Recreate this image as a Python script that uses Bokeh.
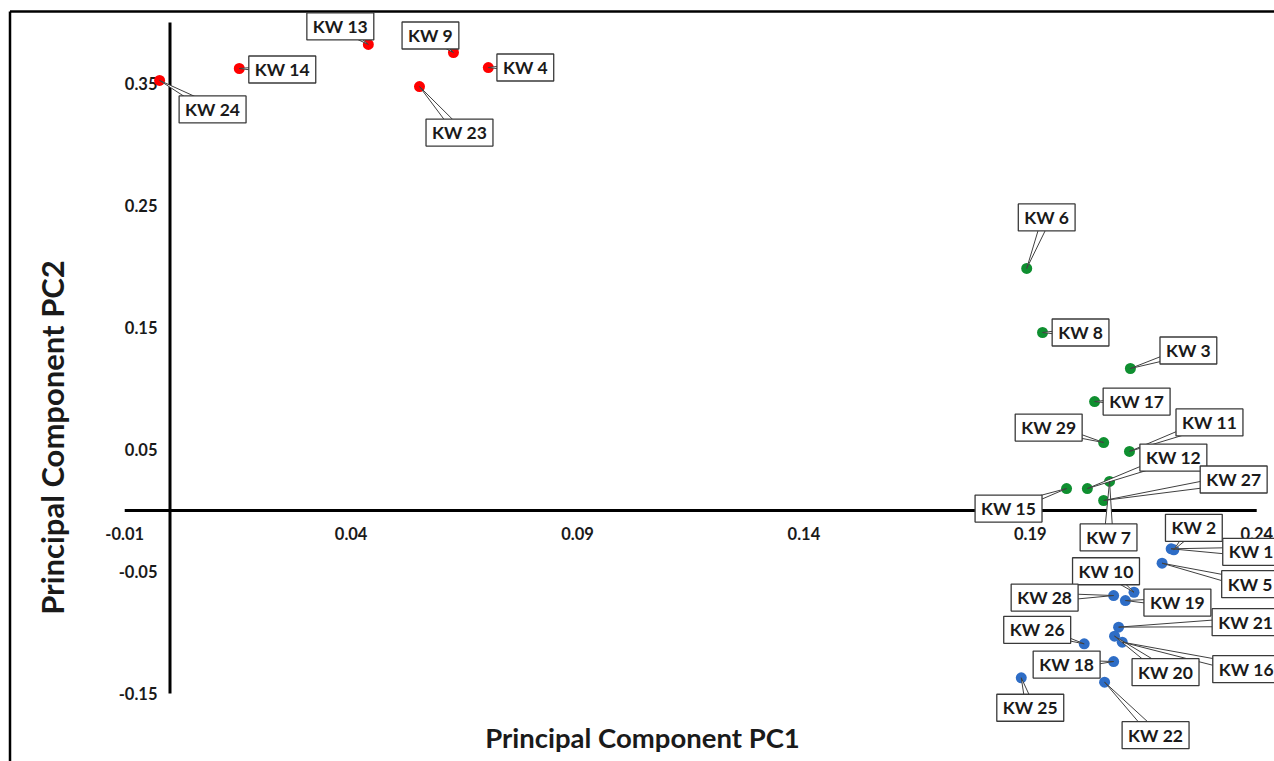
import numpy as np
from bokeh.plotting import figure
from bokeh.models import Range1d
from bokeh.core.properties import value
from bokeh.embed import file_html
from bokeh.resources import INLINE

# ---------------- data ----------------
red_names = ["KW 24", "KW 14", "KW 13", "KW 9", "KW 4", "KW 23"]
red_pc1 = [-0.0023, 0.0153, 0.0438, 0.0626, 0.0703, 0.0551]
red_pc2 = [0.3525, 0.3623, 0.3820, 0.3754, 0.3631, 0.3475]

green_names = ["KW 6", "KW 8", "KW 3", "KW 17", "KW 29", "KW 11", "KW 12", "KW 15", "KW 7", "KW 27"]
green_pc1 = [0.1892, 0.1927, 0.2121, 0.2042, 0.2062, 0.2119, 0.2026, 0.1980, 0.2075, 0.2062]
green_pc2 = [0.1984, 0.1459, 0.1164, 0.0893, 0.0557, 0.0484, 0.0180, 0.0180, 0.0238, 0.0082]

blue_names = ["KW 2", "KW 1", "KW 5", "KW 10", "KW 28", "KW 19", "KW 21", "KW 20", "KW 16",
              "KW 26", "KW 18", "KW 25", "KW 22"]
blue_pc1 = [0.2217, 0.2211, 0.2191, 0.2129, 0.2084, 0.2110, 0.2095, 0.2086, 0.2103,
            0.2019, 0.2084, 0.1880, 0.2064]
blue_pc2 = [-0.0322, -0.0314, -0.0432, -0.0670, -0.0697, -0.0738, -0.0956, -0.1030, -0.1079,
            -0.1093, -0.1238, -0.1371, -0.1407]

x_ticks = [-0.01, 0.04, 0.09, 0.14, 0.19, 0.24]
x_tick_labels = ["-0.01", "0.04", "0.09", "0.14", "0.19", "0.24"]
y_ticks = [-0.15, -0.05, 0.05, 0.15, 0.25, 0.35]
y_tick_labels = ["-0.15", "-0.05", "0.05", "0.15", "0.25", "0.35"]

x_axis_title = "Principal Component PC1"
y_axis_title = "Principal Component PC2"

# ---------------- layout (screen pixel offsets of callout boxes) ----------------
label_offsets = {
    "KW 24": (53, 29), "KW 14": (43, 1), "KW 13": (-28, -18), "KW 9": (-23, -17),
    "KW 4": (37, 0), "KW 23": (40, 46),
    "KW 6": (20, -51), "KW 8": (38, 0), "KW 3": (58, -18), "KW 17": (42, 0),
    "KW 29": (-55, -15), "KW 11": (80, -29), "KW 12": (86, -31), "KW 15": (-58, 20),
    "KW 7": (-1, 56), "KW 27": (130, -21),
    "KW 2": (20, -22), "KW 1": (80, 3), "KW 5": (88, 21), "KW 10": (-28, -21),
    "KW 28": (-69, 2), "KW 19": (52, 2), "KW 21": (127, -5), "KW 20": (51, 36),
    "KW 16": (124, 27), "KW 26": (-47, -14), "KW 18": (-47, 3), "KW 25": (9, 30),
    "KW 22": (51, 53),
}

W, H = 1274, 761
SX, SY = 4528.0, 1220.0          # pixels per data unit
OX, OY = 169.5, 510.0            # canvas pixel of the data origin

def to_px(x, y):
    return OX + x * SX, OY - y * SY

def to_data(px, py):
    return (px - OX) / SX, (OY - py) / SY

x0, y1 = to_data(0, 0)
x1, y0 = to_data(W, H)

p = figure(width=W, height=H, x_range=Range1d(x0, x1), y_range=Range1d(y0, y1),
           x_axis_type=None, y_axis_type=None, toolbar_location=None,
           output_backend="svg", min_border=0, outline_line_color=None,
           background_fill_color="white", border_fill_color="white")
p.xgrid.visible = False
p.ygrid.visible = False

FONT = value("Lato")
TXT = "#1a1a1a"

# chart area border (top and left edges visible)
bx_l, by_t = to_data(9.5, 11)
p.segment(x0=[bx_l, bx_l], y0=[by_t, by_t], x1=[x1, bx_l], y1=[by_t, y0],
          line_color="black", line_width=2.5)

# axes crossing at origin
p.segment(x0=[x_ticks[0], 0], y0=[0, y_ticks[0]], x1=[x_ticks[-1], 0], y1=[0, 0.40],
          line_color="black", line_width=3)

# tick labels
_, xl_y = to_data(0, 533)
p.text(x=x_ticks, y=[xl_y] * len(x_ticks), text=x_tick_labels, text_align="center",
       text_baseline="middle", text_font=FONT, text_font_style="bold",
       text_font_size="16.5px", text_color=TXT)
yl_x, _ = to_data(157, 0)
p.text(x=[yl_x] * len(y_ticks), y=y_ticks, text=y_tick_labels, text_align="right",
       text_baseline="middle", text_font=FONT, text_font_style="bold",
       text_font_size="16.5px", text_color=TXT)

# axis titles
tx, ty = to_data(642, 737)
p.text(x=[tx], y=[ty], text=[x_axis_title], text_align="center", text_baseline="middle",
       text_font=FONT, text_font_style="bold", text_font_size="27.5px", text_color=TXT)
tx, ty = to_data(51, 437)
p.text(x=[tx], y=[ty], text=[y_axis_title], text_align="center", text_baseline="middle",
       angle=np.pi / 2, text_font=FONT, text_font_style="bold", text_font_size="31px",
       text_color=TXT)

groups = [
    (red_names, red_pc1, red_pc2, "#FF0000"),
    (green_names, green_pc1, green_pc2, "#0F8F30"),
    (blue_names, blue_pc1, blue_pc2, "#2E6DC6"),
]

# points
for names, xs, ys, col in groups:
    p.scatter(xs, ys, size=11, color=col, line_color=None)

# callout wedges and boxes
wx, wy, lx, ly, lt = [], [], [], [], []
for names, xs, ys, col in groups:
    for n, x, y in zip(names, xs, ys):
        px, py = to_px(x, y)
        dx, dy = label_offsets[n]
        bx, by = px + dx, py + dy
        L = max(np.hypot(dx, dy), 1e-6)
        nx, ny = -dy / L * 4.5, dx / L * 4.5
        pts = [(px, py), (bx + nx, by + ny), (bx - nx, by - ny)]
        d = [to_data(a, b) for a, b in pts]
        wx.append([q[0] for q in d])
        wy.append([q[1] for q in d])
        cx, cy = to_data(bx, by)
        lx.append(cx)
        ly.append(cy)
        lt.append(n)

p.patches(xs=wx, ys=wy, fill_color="white", line_color="#404040", line_width=1)
p.text(x=lx, y=ly, text=lt, text_align="center", text_baseline="middle",
       text_font=FONT, text_font_style="bold", text_font_size="17.5px", text_color=TXT,
       background_fill_color="white", border_line_color="#3a3a3a", border_line_width=1.3,
       padding=(6, 3))

open("out.html", "w").write(file_html(p, INLINE))
